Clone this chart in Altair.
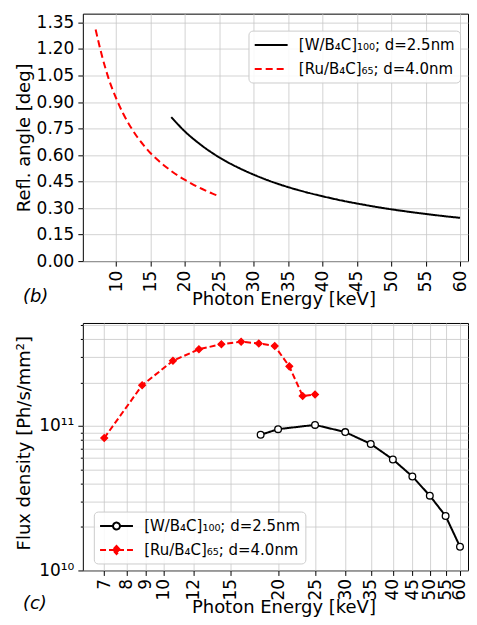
import altair as alt
import pandas as pd

W_LABEL = "[W/B₄C]₁₀₀; d=2.5nm"
RU_LABEL = "[Ru/B₄C]₆₅; d=4.0nm"
series_order = [W_LABEL, RU_LABEL]

# ---- panel (b): reflection angle vs photon energy ----
angle_w_energy = [18, 20, 22, 24, 26, 28, 30, 32, 34, 36, 38, 40, 43, 46, 49, 52, 55, 58, 60]
angle_w_deg = [0.815, 0.733, 0.667, 0.611, 0.564, 0.524, 0.489, 0.458, 0.431, 0.407,
               0.386, 0.367, 0.341, 0.319, 0.299, 0.282, 0.267, 0.253, 0.245]
angle_ru_energy = [7, 8, 9, 10, 11, 12, 13, 14, 15, 16, 17, 18, 19, 20, 21, 22, 23, 24, 25]
angle_ru_deg = [1.31, 1.15, 1.02, 0.92, 0.835, 0.765, 0.705, 0.655, 0.61, 0.573,
                0.54, 0.51, 0.483, 0.459, 0.437, 0.417, 0.399, 0.382, 0.367]

# ---- panel (c): flux density vs photon energy ----
flux_w_energy = [18, 20, 25, 30, 35, 40, 45, 50, 55, 60]
flux_w = [8.68e10, 9.49e10, 1.016e11, 9.06e10, 7.50e10, 5.86e10, 4.47e10, 3.29e10, 2.38e10, 1.46e10]
flux_ru_energy = [7.0, 8.8, 10.6, 12.4, 14.2, 16.0, 17.8, 19.6, 21.4, 23.2, 25.0]
flux_ru = [8.24e10, 1.91e11, 2.82e11, 3.39e11, 3.67e11, 3.82e11, 3.72e11, 3.57e11, 2.58e11, 1.61e11, 1.65e11]

top_x_ticks = [10, 15, 20, 25, 30, 35, 40, 45, 50, 55, 60]
top_y_ticks = [0.0, 0.15, 0.30, 0.45, 0.60, 0.75, 0.90, 1.05, 1.20, 1.35]
bot_x_ticks = [7, 8, 9, 10, 12, 15, 20, 25, 30, 35, 40, 45, 50, 55, 60]
bot_y_ticks = [1e10, 2e10, 3e10, 4e10, 5e10, 6e10, 7e10, 8e10, 9e10,
               1e11, 2e11, 3e11, 4e11, 5e11]

angle_df = pd.concat([
    pd.DataFrame({"energy": angle_w_energy, "angle": angle_w_deg, "series": W_LABEL}),
    pd.DataFrame({"energy": angle_ru_energy, "angle": angle_ru_deg, "series": RU_LABEL}),
])
flux_df = pd.concat([
    pd.DataFrame({"energy": flux_w_energy, "flux": flux_w, "series": W_LABEL}),
    pd.DataFrame({"energy": flux_ru_energy, "flux": flux_ru, "series": RU_LABEL}),
])

is_ru = f"datum.value == '{RU_LABEL}'"

LINE_PATH = "M-1,0H3"
W_PATH = "M-1,0H0.58M1.42,0H3M0.58,0A0.42,0.42,0,1,1,1.42,0A0.42,0.42,0,1,1,0.58,0Z"
RU_PATH = "M-1,0H3M1,-0.5L1.45,0L1,0.5L0.55,0Z"

legend_common = dict(
    title=None, orient="none", symbolSize=272, symbolStrokeWidth=2,
    labelFontSize=15, labelOffset=26.5, rowPadding=6, padding=5,
    fillColor="rgba(255,255,255,0.85)", strokeColor="#cccccc", cornerRadius=4,
    labelColor="black", symbolOpacity=1,
)

top_legend = alt.Legend(
    legendX=166, legendY=17, symbolType=LINE_PATH,
    symbolDash={"expr": f"{is_ru} ? [7,4] : [1,0]"},
    **legend_common,
)
bot_legend = alt.Legend(
    legendX=11, legendY=189,
    symbolStrokeColor={"expr": f"{is_ru} ? 'red' : 'black'"},
    symbolFillColor={"expr": f"{is_ru} ? 'red' : 'white'"},
    symbolDash={"expr": f"{is_ru} ? [6,3] : [1,0]"},
    **legend_common,
)

PW, PH = 386, 248

top_x = alt.X("energy:Q", scale=alt.Scale(domain=[5.14, 61.16], nice=False, zero=False),
              axis=alt.Axis(values=top_x_ticks, format="d", labelAngle=270, labelOverlap=False,
                            labelFlush=False, title="Photon Energy [keV]",
                            titleX=201, titleY=29, titleBaseline="top"))
top_y = alt.Y("angle:Q", scale=alt.Scale(domain=[0, 1.40], nice=False, zero=False),
              axis=alt.Axis(values=top_y_ticks, format=".2f", labelOverlap=False, labelFlush=False,
                            title="Refl. angle [deg]", titleX=-49.5, titleY=PH / 2))

top = alt.Chart(angle_df).mark_line(strokeWidth=2, interpolate="monotone").encode(
    x=top_x, y=top_y,
    color=alt.Color("series:N", scale=alt.Scale(domain=series_order, range=["black", "red"]),
                    legend=top_legend),
    strokeDash=alt.StrokeDash("series:N", scale=alt.Scale(domain=series_order, range=[[1, 0], [7, 4]]),
                              legend=None),
    detail="series:N",
).properties(
    width=PW, height=PH,
    title=alt.TitleParams("(b)", orient="bottom", anchor="start", frame="group",
                          fontSize=18, fontStyle="italic", fontWeight="normal",
                          color="black", dx=-60, dy=-20, offset=0),
)

major_test = "datum.value == 1e10 || datum.value == 1e11"
bot_x = alt.X("energy:Q", scale=alt.Scale(type="log", domain=[6.151, 62.97], nice=False),
              axis=alt.Axis(values=bot_x_ticks, format="d", labelAngle=270, labelOverlap=False,
                            labelFlush=False, labelPadding=3, title="Photon Energy [keV]",
                            titleX=201, titleY=28, titleBaseline="top"))
bot_y = alt.Y("flux:Q", scale=alt.Scale(type="log", domain=[1e10, 5.15e11], nice=False),
              axis=alt.Axis(values=bot_y_ticks, labelOverlap=False, labelFlush=False,
                            labelExpr="datum.value == 1e10 ? '10¹⁰' : (datum.value == 1e11 ? '10¹¹' : '')",
                            tickSize={"condition": {"test": major_test, "value": 5}, "value": 2.5},
                            title="Flux density [Ph/s/mm²]", titleX=-49.5, titleY=PH / 2 - 4))

color_sc = alt.Scale(domain=series_order, range=["black", "red"])
dash_sc = alt.Scale(domain=series_order, range=[[1, 0], [6, 3]])
fill_sc = alt.Scale(domain=series_order, range=["white", "red"])

bot_line = alt.Chart(flux_df).mark_line(strokeWidth=2).encode(
    x=bot_x, y=bot_y,
    color=alt.Color("series:N", scale=color_sc, legend=None),
    strokeDash=alt.StrokeDash("series:N", scale=dash_sc, legend=None),
    detail="series:N",
)
bot_points = alt.Chart(flux_df).mark_point(size=45, strokeWidth=1.3, opacity=1).encode(
    x=bot_x, y=bot_y,
    color=alt.Color("series:N", scale=color_sc, legend=None),
    shape=alt.Shape("series:N", scale=alt.Scale(domain=series_order, range=["circle", "diamond"]),
                    legend=None),
    fill=alt.Fill("series:N", scale=fill_sc, legend=None),
)
# legend-only layer (filtered to no rows): its symbols draw line + marker
bot_key = alt.Chart(flux_df).transform_filter("false").mark_point(strokeWidth=2, opacity=1).encode(
    x=bot_x, y=bot_y,
    fill=alt.Fill("series:N", scale=fill_sc, legend=None),
    stroke=alt.Stroke("series:N", scale=color_sc, legend=None),
    shape=alt.Shape("series:N", scale=alt.Scale(domain=series_order, range=[W_PATH, RU_PATH]),
                    legend=bot_legend),
)
bottom = alt.layer(bot_line, bot_points, bot_key).resolve_scale(shape="independent").properties(
    width=PW, height=PH,
    title=alt.TitleParams("(c)", orient="bottom", anchor="start", frame="group",
                          fontSize=18, fontStyle="italic", fontWeight="normal",
                          color="black", dx=-60, dy=-21, offset=0),
)

chart = alt.vconcat(top, bottom, spacing=62, bounds="flush").resolve_scale(
    color="independent", strokeDash="independent", shape="independent", fill="independent"
).resolve_legend(
    color="independent", strokeDash="independent", shape="independent", fill="independent"
).properties(
    padding={"left": 6, "top": 4, "right": 0, "bottom": 0},
).configure(font="DejaVu Sans").configure_view(
    stroke="black", strokeWidth=1
).configure_axis(
    gridColor="#c8c8c8", gridWidth=0.8, domain=False, tickColor="black", tickSize=5,
    labelColor="black", titleColor="black", labelFontSize=17, titleFontSize=18,
    titleFontWeight="normal", labelPadding=4,
)

chart.save("out.html", embed_options={"renderer": "svg", "actions": False})
